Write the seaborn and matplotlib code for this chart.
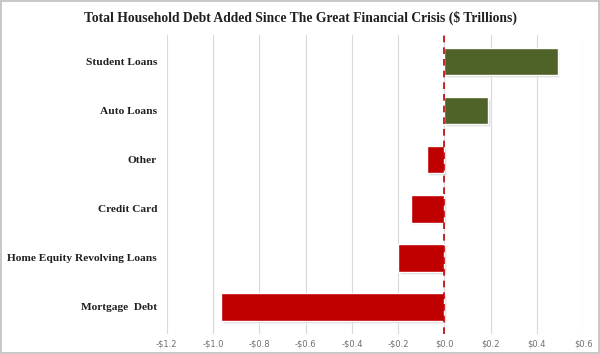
import numpy as np
import pandas as pd
import matplotlib
matplotlib.use("Agg")
import matplotlib.pyplot as plt
import matplotlib.ticker as mticker
import seaborn as sns

categories = ["Student Loans", "Auto Loans", "Other", "Credit Card",
              "Home Equity Revolving Loans", "Mortgage  Debt"]
debt_added = [0.49, 0.19, -0.075, -0.145, -0.20, -0.965]
tick_values = [-1.2, -1.0, -0.8, -0.6, -0.4, -0.2, 0.0, 0.2, 0.4, 0.6]

df = pd.DataFrame({"category": categories, "value": debt_added})
df["sign"] = np.where(df["value"] >= 0, "up", "down")

sns.set_style("white")
plt.rcParams["font.family"] = ["Liberation Serif", "DejaVu Serif"]

fig = plt.figure(figsize=(6, 3.54), dpi=100)
fig.patch.set_edgecolor("#c8c8c8")
fig.patch.set_linewidth(1.5)
ax = fig.add_axes([0.278, 0.057, 0.694, 0.845])

palette = {"up": "#4f6228", "down": "#c00000"}

# soft shadow behind the bars
for i, v in enumerate(debt_added):
    ax.barh(i + 0.04, v, height=0.56, left=0.006, color="#b0b0b0", alpha=0.5, zorder=1)

sns.barplot(data=df, x="value", y="category", hue="sign", palette=palette,
            order=categories, dodge=False, width=0.56, legend=False,
            saturation=1, ax=ax, zorder=2)

ax.axvline(0, color="#c00000", linestyle=(0, (4, 3)), linewidth=1.2, zorder=3)

ax.set_xlim(-1.2, 0.6)
ax.set_ylim(5.55, -0.55)
ax.set_xticks(tick_values)
ax.xaxis.set_major_formatter(mticker.FuncFormatter(
    lambda v, p: ("-$%.1f" % abs(v)) if v < -1e-9 else "$%.1f" % abs(v)))
ax.grid(axis="x", color="#d9d9d9", linewidth=0.8, zorder=0)
ax.set_axisbelow(True)
for s in ax.spines.values():
    s.set_visible(False)

ax.tick_params(axis="x", length=0, labelsize=6, labelcolor="#707070", pad=4)
ax.tick_params(axis="y", length=0, labelsize=8.2, pad=7)
for lbl in ax.get_xticklabels():
    lbl.set_family(["Liberation Sans Narrow", "DejaVu Sans"])
for lbl in ax.get_yticklabels():
    lbl.set_fontweight("bold")
    lbl.set_color("#202020")
ax.set_xlabel("")
ax.set_ylabel("")

fig.suptitle("Total Household Debt Added Since The Great Financial Crisis ($ Trillions)",
             x=0.5, y=0.97, fontsize=9.8, fontweight="bold", color="#202020")

fig.savefig("out.png", dpi=100, edgecolor=fig.get_edgecolor())
